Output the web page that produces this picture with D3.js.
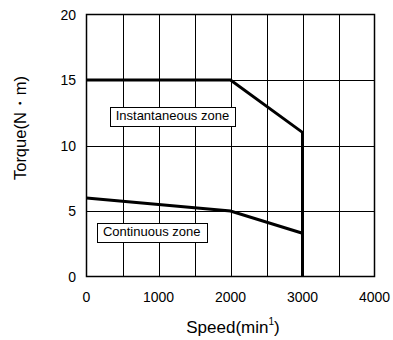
<!DOCTYPE html>
<html><head><meta charset="utf-8">
<script src="https://cdn.jsdelivr.net/npm/d3@7"></script>
<style>body{margin:0;background:#fff}svg{display:block;font-family:"Liberation Sans",Arial,sans-serif}</style>
</head><body><svg id="c" width="393" height="340"></svg>
<script>
const xTicks = [0, 1000, 2000, 3000, 4000];
const yTicks = [0, 5, 10, 15, 20];
const xGrid = [500, 1000, 1500, 2000, 2500, 3000, 3500];
const instSpeed = [0, 2000, 3000, 3000];
const instTorque = [15, 15, 11, 0];
const contSpeed = [0, 2000, 3000];
const contTorque = [6, 5, 3.3];
const zoneLabels = ["Instantaneous zone", "Continuous zone"];
const zoneAnchors = [[350, 11.95], [172, 3.1]];

const svg = d3.select("#c");
const x = d3.scaleLinear().domain([0, 4000]).range([86.5, 374.5]);
const y = d3.scaleLinear().domain([0, 20]).range([276.5, 14.5]);

// grid
svg.append("g").selectAll("line").data(xGrid).join("line")
  .attr("x1", d => Math.round(x(d)) + 0.5).attr("x2", d => Math.round(x(d)) + 0.5)
  .attr("y1", y(20)).attr("y2", y(0)).attr("stroke", "#000").attr("stroke-width", 1);
svg.append("g").selectAll("line").data([5, 10, 15]).join("line")
  .attr("y1", d => Math.round(y(d)) + 0.5).attr("y2", d => Math.round(y(d)) + 0.5)
  .attr("x1", x(0)).attr("x2", x(4000)).attr("stroke", "#000").attr("stroke-width", 1);
svg.append("rect").attr("x", x(0)).attr("y", y(20)).attr("width", x(4000) - x(0)).attr("height", y(0) - y(20))
  .attr("fill", "none").attr("stroke", "#000").attr("stroke-width", 1.5);

// tick labels
svg.append("g").selectAll("text").data(yTicks).join("text")
  .attr("x", 76).attr("y", d => y(d) + 5).attr("text-anchor", "end")
  .attr("font-size", 14).text(d => d);
svg.append("g").selectAll("text").data(xTicks).join("text")
  .attr("x", d => x(d)).attr("y", 302).attr("text-anchor", "middle")
  .attr("font-size", 14).text(d => d);

// zone labels
zoneLabels.forEach((t, i) => {
  const g = svg.append("g");
  const tx = g.append("text").attr("x", x(zoneAnchors[i][0]) + 4).attr("y", y(zoneAnchors[i][1]))
    .attr("font-size", 13).text(t);
  const bb = tx.node().getBBox();
  g.insert("rect", "text").attr("x", Math.round(bb.x) - 5.5).attr("y", Math.round(bb.y) - 0.5)
    .attr("width", Math.round(bb.width) + 12).attr("height", 19)
    .attr("fill", "#fff").attr("stroke", "#000").attr("stroke-width", 1);
});

// curves
const line = d3.line().x(d => x(d[0])).y(d => y(d[1]));
svg.append("path").datum(instSpeed.map((s, i) => [s, instTorque[i]]))
  .attr("d", line).attr("fill", "none").attr("stroke", "#000").attr("stroke-width", 3);
svg.append("path").datum(contSpeed.map((s, i) => [s, contTorque[i]]))
  .attr("d", line).attr("fill", "none").attr("stroke", "#000").attr("stroke-width", 3);

// axis titles
const xt = svg.append("text").attr("x", 233).attr("y", 333).attr("text-anchor", "middle").attr("font-size", 17);
xt.append("tspan").text("Speed(min");
xt.append("tspan").attr("font-size", 10).attr("dy", -8).text("1");
xt.append("tspan").attr("dy", 8).text(")");
svg.append("text").attr("transform", "translate(26,128) rotate(-90)").attr("text-anchor", "middle")
  .attr("font-size", 16.5).text("Torque(N\u30FBm)");
</script></body></html>
